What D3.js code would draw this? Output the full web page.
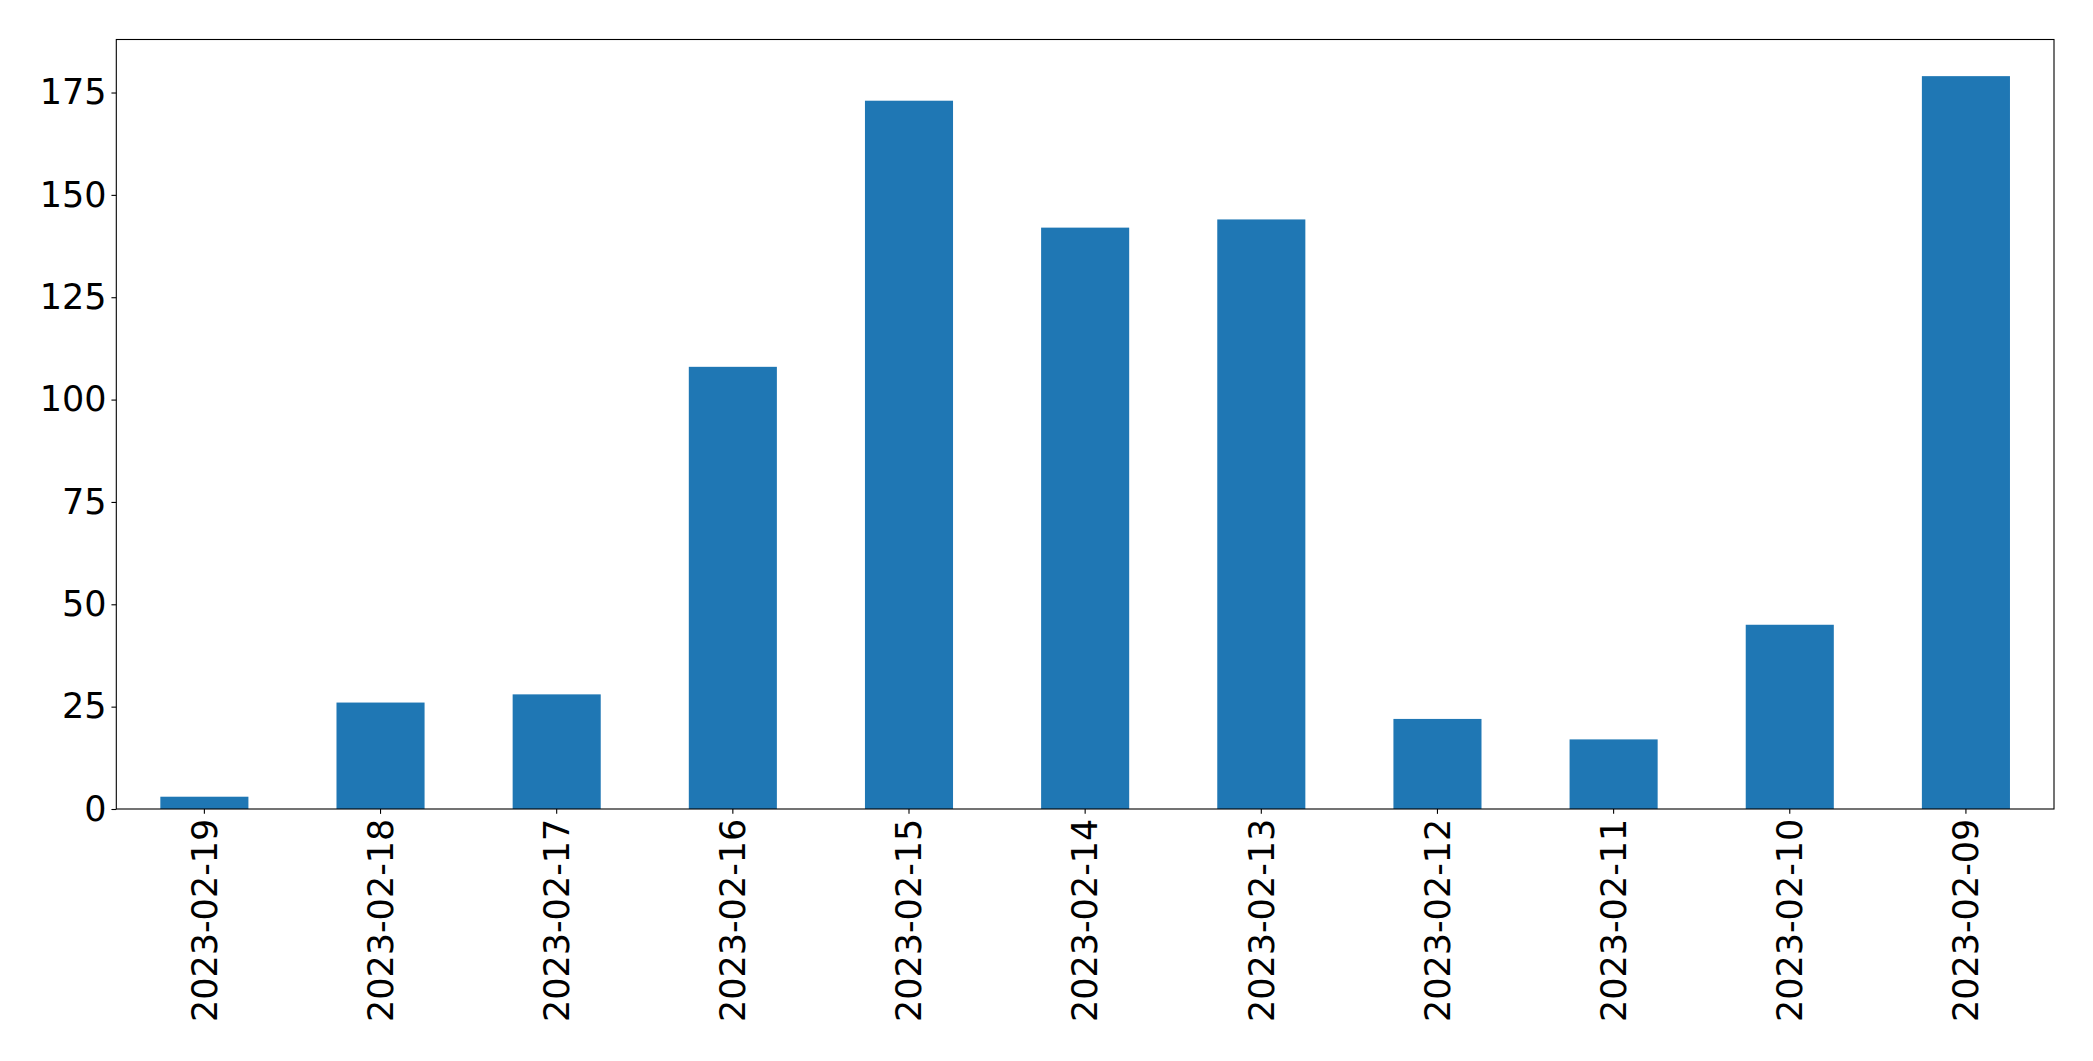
<!DOCTYPE html>
<html>
<head>
<meta charset="utf-8">
<script src="https://cdn.jsdelivr.net/npm/d3@7"></script>
<style>
  html, body { margin: 0; padding: 0; background: #fff; }
  svg { display: block; }
  text { font-family: "DejaVu Sans", sans-serif; }
</style>
</head>
<body>
<script>
const categories = ["2023-02-19","2023-02-18","2023-02-17","2023-02-16","2023-02-15","2023-02-14","2023-02-13","2023-02-12","2023-02-11","2023-02-10","2023-02-09"];
const values = [3, 26, 28, 108, 173, 142, 144, 22, 17, 45, 179];
const yTicks = [0, 25, 50, 75, 100, 125, 150, 175];

(function () {
const W = 2093, H = 1061;
const mLeft = 116.3, mRight = 2054, mTop = 39.5, mBottom = 809;

const svg = d3.select("body").append("svg").attr("width", W).attr("height", H);

const x = d3.scaleBand().domain(categories).range([mLeft, mRight]).paddingInner(0.5).paddingOuter(0.25);
const y = d3.scaleLinear().domain([0, d3.max(values) * 1.05]).range([mBottom, mTop]);

svg.append("g").selectAll("rect").data(values).join("rect")
  .attr("x", (d, i) => x(categories[i]))
  .attr("width", x.bandwidth())
  .attr("y", d => y(d))
  .attr("height", d => y(0) - y(d))
  .attr("fill", "#1f77b4");

const fs = 35;
const yAxis = svg.append("g").attr("transform", `translate(${mLeft},0)`)
  .call(d3.axisLeft(y).tickValues(yTicks).tickSize(4.86).tickPadding(4.86).tickFormat(d3.format("d")));
yAxis.select(".domain").remove();
yAxis.selectAll("line").attr("stroke", "#000").attr("stroke-width", 1.1);
yAxis.selectAll("text").attr("font-size", fs).attr("fill", "#000").attr("font-family", "DejaVu Sans");

const xAxis = svg.append("g").attr("transform", `translate(0,${mBottom})`)
  .call(d3.axisBottom(x).tickSize(4.86).tickPadding(4.86));
xAxis.select(".domain").remove();
xAxis.selectAll("line").attr("stroke", "#000").attr("stroke-width", 1.1);
xAxis.selectAll("text")
  .attr("font-size", fs).attr("fill", "#000").attr("font-family", "DejaVu Sans")
  .attr("transform", "rotate(-90)")
  .attr("text-anchor", "end")
  .attr("x", -9.7)
  .attr("y", 0)
  .attr("dy", "0.35em");

svg.append("rect")
  .attr("x", mLeft).attr("y", mTop)
  .attr("width", mRight - mLeft).attr("height", mBottom - mTop)
  .attr("fill", "none").attr("stroke", "#000").attr("stroke-width", 1.1);
})();
</script>
</body>
</html>
